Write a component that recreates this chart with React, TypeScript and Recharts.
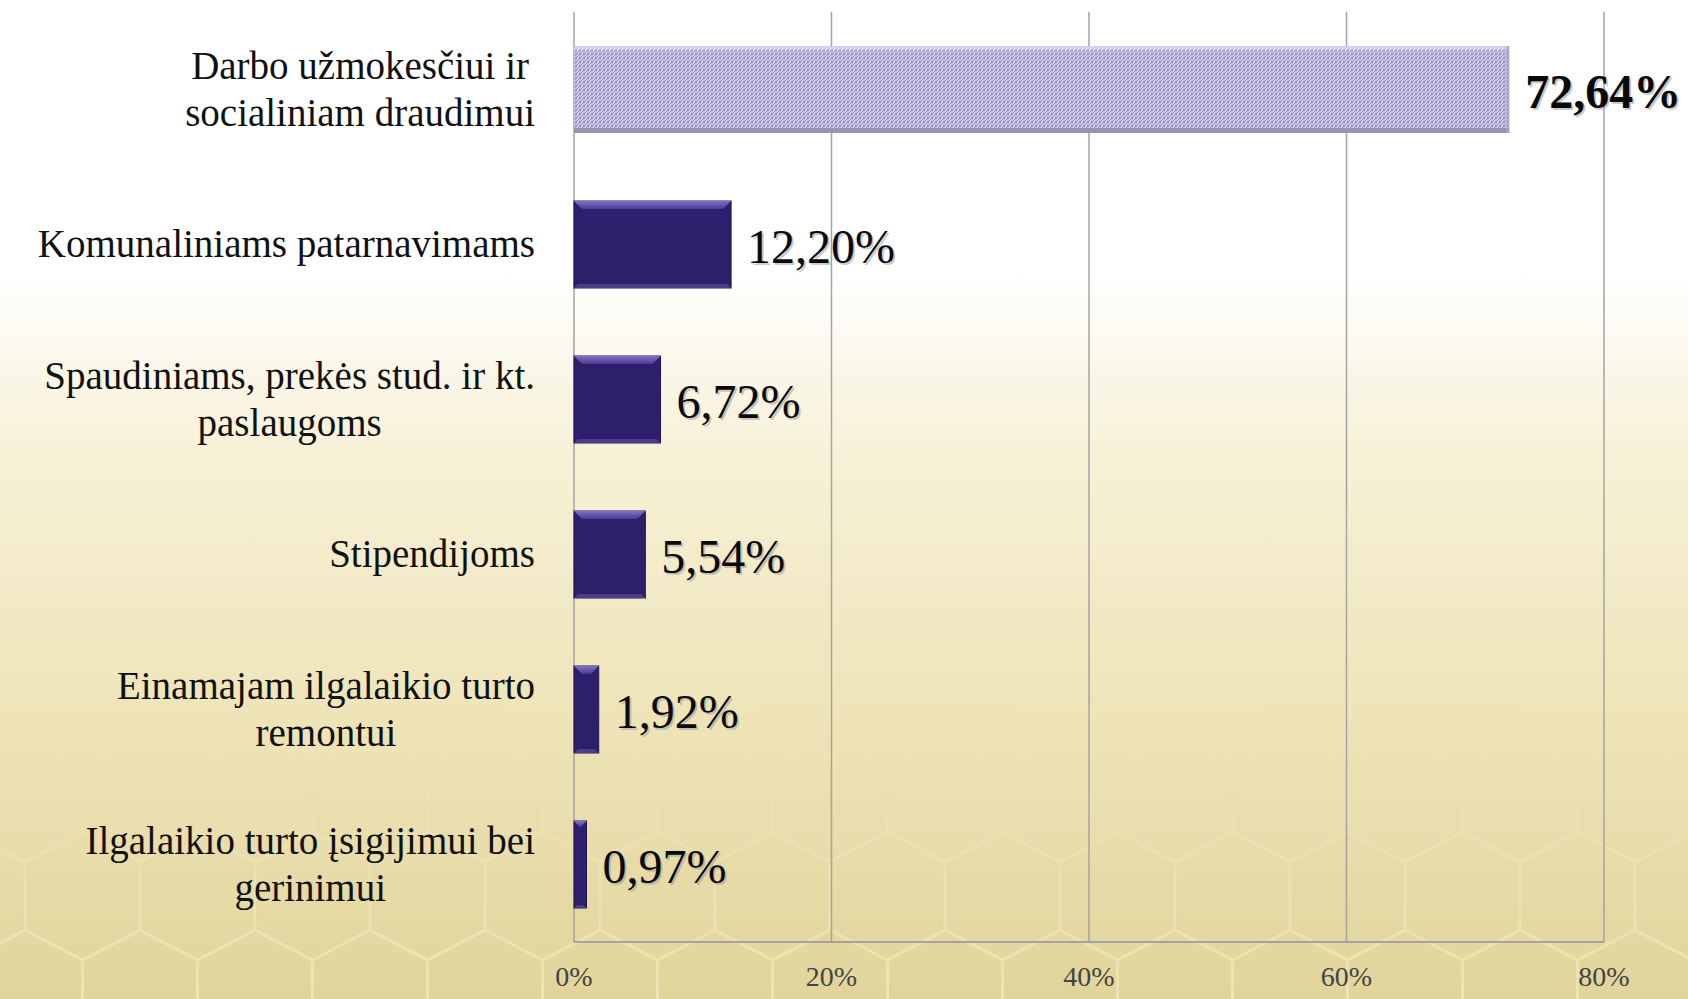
import type { JSX } from 'react';
import { Bar, BarChart, CartesianGrid, Cell, LabelList, XAxis, YAxis } from 'recharts';

const categoryLines: string[][] = [
  ['Darbo užmokesčiui ir', 'socialiniam draudimui'],
  ['Komunaliniams patarnavimams'],
  ['Spaudiniams, prekės stud. ir kt.', 'paslaugoms'],
  ['Stipendijoms'],
  ['Einamajam ilgalaikio turto', 'remontui'],
  ['Ilgalaikio turto įsigijimui bei', 'gerinimui'],
];
const shares = [72.64, 12.2, 6.72, 5.54, 1.92, 0.97];
const axisTicks = [0, 20, 40, 60, 80];

const data = categoryLines.map((lines, i) => ({ name: lines.join(' '), value: shares[i] }));

const W = 1688;
const H = 999;
const SERIF = "'Liberation Serif', 'DejaVu Serif', 'Times New Roman', serif";
const CAT_SIZE = 39;
const LINE_H = 47;

let ctx: CanvasRenderingContext2D | null = null;
function measure(text: string, font: string): number {
  if (!ctx) ctx = document.createElement('canvas').getContext('2d');
  if (!ctx) return text.length * 18;
  ctx.font = font;
  return ctx.measureText(text).width;
}

function CategoryTick(props: any): JSX.Element {
  const { x, y, payload } = props;
  const entry = categoryLines.find((l) => l.join(' ') === payload.value) ?? [String(payload.value)];
  const font = `${CAT_SIZE}px ${SERIF}`;
  const maxW = Math.max(...entry.map((l) => measure(l, font)));
  const cx = x - maxW / 2;
  const top = y - ((entry.length - 1) * LINE_H) / 2;
  return (
    <g>
      {entry.map((line, i) => (
        <text
          key={i}
          x={cx}
          y={top + i * LINE_H + CAT_SIZE * 0.33}
          textAnchor="middle"
          style={{ fontFamily: SERIF, fontSize: CAT_SIZE }}
          fill="#111"
        >
          {line}
        </text>
      ))}
    </g>
  );
}

function BarShape(props: any): JSX.Element {
  const { x, y, width, height, index } = props;
  if (width <= 0) return <g />;
  if (index === 0) {
    return (
      <g>
        <rect x={x} y={y} width={width} height={height} fill="url(#hatch)" />
        <rect x={x} y={y} width={width} height={4} fill="#e6e3f5" opacity={0.6} />
        <rect x={x} y={y + height - 5} width={width} height={5} fill="#8e8ca6" opacity={0.8} />
        <rect x={x + width - 3} y={y} width={3} height={height} fill="#a9a6c2" opacity={0.8} />
      </g>
    );
  }
  const b = Math.min(8, width / 2);
  return (
    <g>
      <rect x={x} y={y} width={width} height={height} fill="#2e1f6c" stroke="#1f1450" strokeWidth={1} />
      <polygon
        points={`${x},${y} ${x + width},${y} ${x + width - b},${y + b} ${x + b},${y + b}`}
        fill="url(#bevelTop)"
      />
      <polygon
        points={`${x},${y + height} ${x + width},${y + height} ${x + width - b / 2},${y + height - b / 2} ${x + b / 2},${y + height - b / 2}`}
        fill="#4a3e86"
      />
    </g>
  );
}

function ValueLabel(props: any): JSX.Element {
  const { x, y, width, height, value, index } = props;
  const txt = `${Number(value).toFixed(2).replace('.', ',')}%`;
  const tx = x + width + 16;
  const ty = y + height / 2 + 18;
  const st = { fontFamily: SERIF, fontSize: 48, fontWeight: index === 0 ? 700 : 400 };
  return (
    <g>
      <text x={tx + 2} y={ty + 2} style={st} fill="#999" opacity={0.5}>
        {txt}
      </text>
      <text x={tx} y={ty} style={st} fill="#0a0a0a">
        {txt}
      </text>
    </g>
  );
}

function Backdrop(): JSX.Element {
  return (
    <svg width={W} height={H} style={{ position: 'absolute', left: 0, top: 0 }}>
      <defs>
        <pattern id="honey" patternUnits="userSpaceOnUse" x={25} y={78} width={115} height={196}>
          <path
            d="M0,0 V68 L57.5,98 L115,68 V0 M57.5,98 V166 L0,196 M57.5,166 L115,196"
            stroke="#f5ecc2"
            strokeWidth={3}
            fill="none"
          />
        </pattern>
        <linearGradient id="honeyFade" x1="0" y1="0" x2="0" y2="1">
          <stop offset="0.72" stopColor="#fff" stopOpacity={0} />
          <stop offset="1" stopColor="#fff" stopOpacity={0.65} />
        </linearGradient>
        <mask id="honeyMask">
          <rect x={0} y={0} width={W} height={H} fill="url(#honeyFade)" />
        </mask>
      </defs>
      <rect x={0} y={0} width={W} height={H} fill="url(#honey)" mask="url(#honeyMask)" />
    </svg>
  );
}

export default function App(): JSX.Element {
  return (
    <div
      style={{
        position: 'relative',
        width: W,
        height: H,
        overflow: 'hidden',
        background:
          'linear-gradient(to bottom, #ffffff 0%, #ffffff 27%, #f7f1d8 45%, #efe5ba 70%, #e1d49b 100%)',
      }}
    >
      <style>{'body{margin:0}'}</style>
      <Backdrop />
      <div style={{ position: 'absolute', left: 0, top: 0 }}>
        <BarChart
          width={W}
          height={H}
          data={data}
          layout="vertical"
          margin={{ top: 12, right: 84, bottom: 0, left: 0 }}
          barSize={87}
        >
          <defs>
            <pattern id="hatch" patternUnits="userSpaceOnUse" width={4} height={4}>
              <rect width={4} height={4} fill="#d9d6ee" />
              <path d="M-1,5 L3,-3 M1,7 L5,-1" stroke="#7f79b8" strokeWidth={1} />
            </pattern>
            <linearGradient id="bevelTop" x1="0" y1="0" x2="0" y2="1">
              <stop offset="0" stopColor="#8070c4" />
              <stop offset="1" stopColor="#4a3a94" />
            </linearGradient>
          </defs>
          <CartesianGrid horizontal={false} stroke="#a3a3a3" strokeWidth={1.5} />
          <XAxis
            type="number"
            domain={[0, 80]}
            ticks={axisTicks}
            tickFormatter={(v: number) => `${v}%`}
            height={57}
            tickSize={0}
            tickMargin={24}
            axisLine={{ stroke: '#a3a3a3', strokeWidth: 2 }}
            tick={{ fontFamily: SERIF, fontSize: 28, fill: '#444' }}
          />
          <YAxis
            type="category"
            dataKey="name"
            width={574}
            tickSize={0}
            tickMargin={39}
            axisLine={false}
            tickLine={false}
            tick={(p: any) => <CategoryTick {...p} />}
            interval={0}
          />
          <Bar dataKey="value" isAnimationActive={false} shape={(p: any) => <BarShape {...p} />}>
            {data.map((d, i) => (
              <Cell key={d.name} fill={i === 0 ? 'url(#hatch)' : '#2e1f6c'} />
            ))}
            <LabelList dataKey="value" content={(p: any) => <ValueLabel {...p} />} />
          </Bar>
        </BarChart>
      </div>
    </div>
  );
}
